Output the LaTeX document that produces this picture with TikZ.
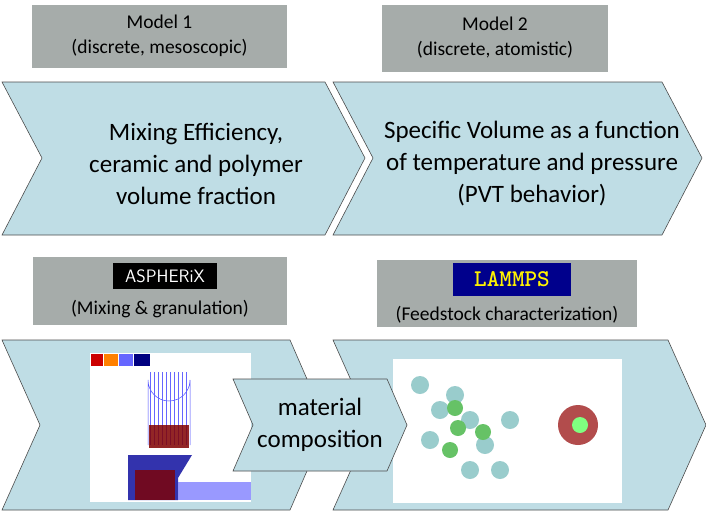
\documentclass[tikz,border=0pt]{standalone}
\usepackage{fontspec}
\setmainfont{Carlito}
\begin{document}
\begin{tikzpicture}[x=1pt,y=-1pt,
  chev/.style={fill=chevblue,draw=black!70,line width=0.6pt},
  greybox/.style={fill=boxgrey,draw=none},
  lbl/.style={align=center,font=\fontsize{19.5}{25}\selectfont},
  big/.style={align=center,font=\fontsize{25}{32}\selectfont}]
\definecolor{chevblue}{RGB}{191,221,229}
\definecolor{boxgrey}{RGB}{166,172,170}
\useasboundingbox (0,0) rectangle (706,512);
% grey boxes
\fill[greybox] (32,5) rectangle (287,68);
\fill[greybox] (382,5) rectangle (608,72);
\fill[greybox] (33,257) rectangle (287,325);
\fill[greybox] (377,260) rectangle (637,327);
\node[lbl] (m1) at (159.5,36) {Model 1\\(discrete, mesoscopic)};
\node[lbl] (m2) at (495,38) {Model 2\\(discrete, atomistic)};
% top chevrons
\draw[chev] (2,82) -- (325,82) -- (365,158) -- (325,235) -- (2,235) -- (42,158) -- cycle;
\draw[chev] (333,82) -- (662,82) -- (702,158) -- (662,235) -- (333,235) -- (373,158) -- cycle;
\node[big] (t1) at (196,164) {Mixing Efficiency,\\ceramic and polymer\\volume fraction};
\node[big] (t2) at (532,164) {Specific Volume as a function\\of temperature and pressure\\(PVT behavior)};
% logos
\fill[black] (113,263) rectangle (217,289);
\node[text=white,font=\fontsize{18}{18}\selectfont\sffamily] (asp) at (165,276) {ASPHERiX};
\fill[blue!55!black] (453,263) rectangle (571,296);
\node[text=yellow,font=\fontsize{24}{24}\selectfont\ttfamily\bfseries] (lam) at (512,279.5) {LAMMPS};
\node[lbl] (l1) at (160,309) {(Mixing \& granulation)};
\node[lbl] (l2) at (507,315) {(Feedstock characterization)};
% bottom chevrons
\draw[chev] (2,340) -- (290,340) -- (327,425) -- (290,510) -- (2,510) -- (40,425) -- cycle;
\draw[chev] (333,340) -- (668,340) -- (706,425) -- (668,510) -- (333,510) -- (371,425) -- cycle;
% images
\fill[white] (90,353) rectangle (251,502);
\fill[white] (393,359) rectangle (622,503);
% left image schematic
\fill[red!80!black] (91,354) rectangle (103,366);
\fill[orange] (104,354) rectangle (118,366);
\fill[blue!60] (119,354) rectangle (133,366);
\fill[blue!50!black] (134,354) rectangle (150,366);
\draw[blue!70,line width=0.5pt] (148,445) -- (148,380) arc[start angle=180,end angle=0,radius=21] -- (190,445);
\foreach \i in {150,154,...,188} \draw[blue!60,line width=0.3pt] (\i,372) -- (\i,445);
\fill[red!50!black,opacity=0.85] (149,425) rectangle (189,448);
\fill[blue!60!black,opacity=0.8] (128,455) -- (192,455) -- (178,478) -- (178,500) -- (128,500) -- cycle;
\fill[red!50!black,opacity=0.8] (135,470) rectangle (175,500);
\fill[blue!50,opacity=0.8] (178,482) rectangle (251,500);
% middle chevron
\draw[chev] (233,379) -- (387,379) -- (407,425) -- (387,471) -- (233,471) -- (253,425) -- cycle;
\node[big] (mc) at (320,425) {material\\composition};
% right image schematic
\foreach \p in {(440,410),(470,420),(455,395),(430,440),(485,445),(500,470),(420,385),(470,470),(510,420)}
  \fill[teal!40] \p circle[radius=9];
\foreach \p in {(455,408),(458,428),(483,432),(450,450)}
  \fill[green!60!black!60] \p circle[radius=8];
\fill[red!40!gray] (578,425) circle[radius=20];
\fill[green!50] (580,425) circle[radius=8];
\end{tikzpicture}
\end{document}
